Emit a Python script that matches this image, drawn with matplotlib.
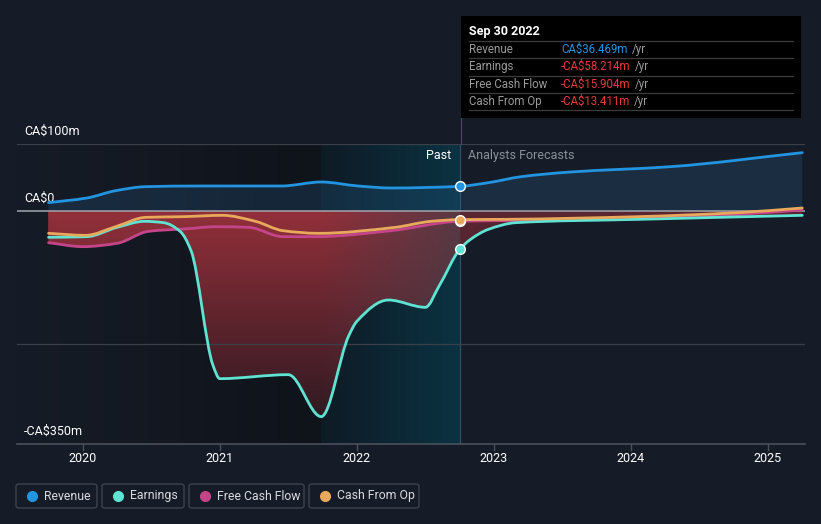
import matplotlib
matplotlib.use('Agg')
import numpy as np
import matplotlib.pyplot as plt
from matplotlib.path import Path
from matplotlib.patches import PathPatch, Rectangle, FancyBboxPatch
from matplotlib.lines import Line2D

plt.rcParams['font.family'] = ['Roboto', 'DejaVu Sans']

# ---- data (CA$ m) ----
rev_years = [2019.75, 2020.03, 2020.24, 2020.46, 2020.85, 2021.45, 2021.74, 2022.01, 2022.25,
             2022.75, 2022.96, 2023.2, 2023.56, 2024.29, 2025.25]
rev_vals = [12, 19, 30, 36, 37, 37, 43, 37, 34, 36.469, 42, 51, 58, 66, 87]

earn_years = [2019.75, 2020.03, 2020.25, 2020.45, 2020.59, 2020.71, 2020.79, 2020.95,
              2021.0, 2021.5, 2021.74, 2021.94, 2022.0, 2022.23, 2022.5,
              2022.6, 2022.75, 2022.83, 2022.96, 2023.16, 2024.06, 2025.25]
earn_vals = [-40, -39, -25, -16, -18, -31, -60, -232, -252, -246, -309, -188,
             -166, -134, -145, -113, -58.214, -43, -28, -18, -13, -7]

fcf_years = [2019.75, 2020.0, 2020.25, 2020.48, 2020.77, 2020.97, 2021.21, 2021.46, 2021.7,
             2022.25, 2022.75, 2023.5, 2024.5, 2025.25]
fcf_vals = [-48, -54, -49, -31, -27, -24, -25, -39, -39, -30, -15.904, -14, -9, 1]

cfo_years = [2019.75, 2020.02, 2020.24, 2020.46, 2020.73, 2021.02, 2021.26, 2021.46, 2021.72,
             2022.28, 2022.54, 2022.75, 2023.09, 2024.05, 2024.78, 2025.25]
cfo_vals = [-34, -37, -24, -10, -9, -7, -16, -30, -34, -25, -16, -13.411, -13, -9, -3, 4]

year_ticks = [2020, 2021, 2022, 2023, 2024, 2025]
now_year = 2022.75
band_start = 2021.74

tooltip_date = 'Sep 30 2022'
tooltip_rows = [('Revenue', 'CA$36.469m', '#2394df'),
                ('Earnings', '-CA$58.214m', '#e8393e'),
                ('Free Cash Flow', '-CA$15.904m', '#e8393e'),
                ('Cash From Op', '-CA$13.411m', '#e8393e')]

C_REV = '#2394df'
C_EARN = '#5fe3d2'
C_FCF = '#c4458a'
C_CFO = '#e8a95c'
BG = '#161c27'

W, H = 821, 524
fig = plt.figure(figsize=(W / 100, H / 100), dpi=100, facecolor=BG)


def fx(x):
    return x / W


def fy(y):
    return 1 - y / H


ax = fig.add_axes([fx(17), fy(444), fx(805) - fx(17), fy(144) - fy(444)])
ax.set_facecolor(BG)
x0, x1 = 2019.52, 2025.27
y0, y1 = -350, 100
ax.set_xlim(x0, x1)
ax.set_ylim(y0, y1)
for s in ax.spines.values():
    s.set_visible(False)
ax.set_xticks([])
ax.set_yticks([])


def mono_path(xs, ys, close_to_zero=False):
    """Smooth monotone cubic Bezier path through the points."""
    xs = np.asarray(xs, float)
    ys = np.asarray(ys, float)
    h = np.diff(xs)
    d = np.diff(ys) / h
    m = np.zeros_like(ys)
    m[0], m[-1] = d[0], d[-1]
    for k in range(1, len(xs) - 1):
        if d[k - 1] * d[k] <= 0:
            m[k] = 0
        else:
            w1 = 2 * h[k] + h[k - 1]
            w2 = h[k] + 2 * h[k - 1]
            m[k] = (w1 + w2) / (w1 / d[k - 1] + w2 / d[k])
    verts = [(xs[0], ys[0])]
    codes = [Path.MOVETO]
    for i in range(len(xs) - 1):
        verts += [(xs[i] + h[i] / 3, ys[i] + m[i] * h[i] / 3),
                  (xs[i + 1] - h[i] / 3, ys[i + 1] - m[i + 1] * h[i] / 3),
                  (xs[i + 1], ys[i + 1])]
        codes += [Path.CURVE4] * 3
    if close_to_zero:
        verts = [(xs[0], 0)] + verts + [(xs[-1], 0), (xs[0], 0)]
        codes = [Path.MOVETO, Path.LINETO] + codes[1:] + [Path.LINETO, Path.CLOSEPOLY]
    return Path(verts, codes)


def hexrgb(c):
    c = c.lstrip('#')
    return np.array([int(c[i:i + 2], 16) / 255 for i in (0, 2, 4)])


# ---- background bands ----
nx = 400
gx = np.linspace(0, 1, nx)
left = hexrgb('#161c27')[None, :] * (1 - gx[:, None]) + hexrgb('#0f131a')[None, :] * gx[:, None]
ax.imshow(left[None, :, :], extent=[x0, band_start, y0, y1], aspect='auto', zorder=0.5)
mid = hexrgb('#0e1b25')[None, :] * (1 - gx[:, None]) + hexrgb('#0b3242')[None, :] * gx[:, None]
ax.imshow(mid[None, :, :], extent=[band_start, now_year, y0, y1], aspect='auto', zorder=0.5)
ax.axvline(now_year, color='#2b5666', lw=0.8, zorder=0.6)

# ---- revenue fill ----
rev_fill = PathPatch(mono_path(rev_years, rev_vals, True), facecolor='#2a6aa0', alpha=0.22,
                     edgecolor='none', zorder=1)
ax.add_patch(rev_fill)

# ---- negative red gradient fill ----
ny = 300
gy = np.linspace(0, 1, ny)[:, None]
xs_img = np.linspace(x0, x1, nx)[None, :]
red_top = hexrgb('#92303a')
red_bot = hexrgb('#2a1820')
img = red_top * (1 - gy[..., None]) + red_bot * gy[..., None]
img = np.broadcast_to(img, (ny, nx, 3)).copy()
t = np.clip((xs_img - band_start) / (now_year - band_start), 0, 1)[..., None]
t = np.where(xs_img[..., None] > now_year, 0, t)
grey = hexrgb('#463c48')
img = img * (1 - 0.75 * t) + grey * 0.75 * t
fmask = (xs_img > now_year)[..., None]
fc = hexrgb('#5a2530') * (1 - gy[..., None]) + hexrgb('#3a2a36') * gy[..., None]
img = np.where(fmask, np.broadcast_to(fc, (ny, nx, 3)), img)
for yrs, vals in [(earn_years, earn_vals), (fcf_years, fcf_vals), (cfo_years, cfo_vals)]:
    p = PathPatch(mono_path(yrs, vals, True), facecolor='none', edgecolor='none')
    ax.add_patch(p)
    im = ax.imshow(img, extent=[x0, x1, -330, 0], aspect='auto', zorder=1.2)
    im.set_clip_path(p)

# ---- gridlines ----
for gv in [100, -200]:
    ax.axhline(gv, color='#3a3f4a', lw=0.9, zorder=1.5)
ax.axhline(0, color='#a3a6ad', lw=1.1, zorder=1.6)
ax.axhline(y0, color='#4a4f5a', lw=1.2, zorder=1.6, clip_on=False)

# ---- lines ----
for yrs, vals, c, z in [(fcf_years, fcf_vals, C_FCF, 3), (earn_years, earn_vals, C_EARN, 3.1),
                        (cfo_years, cfo_vals, C_CFO, 3.2), (rev_years, rev_vals, C_REV, 3.3)]:
    ax.add_patch(PathPatch(mono_path(yrs, vals), facecolor='none', edgecolor=c, lw=2.0,
                           capstyle='round', joinstyle='round', zorder=z))

# markers at now
for v, c in [(fcf_vals[fcf_years.index(now_year)], C_FCF),
             (earn_vals[earn_years.index(now_year)], C_EARN),
             (cfo_vals[cfo_years.index(now_year)], C_CFO),
             (rev_vals[rev_years.index(now_year)], C_REV)]:
    ax.plot([now_year], [v], 'o', ms=7, mfc=c, mec='white', mew=1.0, zorder=5)

# ---- y labels ----
ax.text(x0 + 0.05, 100 + 9, 'CA$100m', color='white', fontsize=9, va='bottom', clip_on=False)
ax.text(x0 + 0.05, 0 + 9, 'CA$0', color='white', fontsize=9, va='bottom')
ax.text(x0 + 0.05, -350 + 9, '-CA$350m', color='white', fontsize=9, va='bottom')
ax.text(now_year - 0.06, 82, 'Past', color='white', fontsize=9, ha='right', va='center')
ax.text(now_year + 0.06, 82, 'Analysts Forecasts', color='#8a8f98', fontsize=9, ha='left',
        va='center')

# ---- x ticks ----
for yr in year_ticks:
    ax.plot([yr, yr], [y0, y0 - 9], color='#4a4f5a', lw=1, clip_on=False, zorder=2)
    ax.text(yr, y0 - 22, str(yr), color='white', fontsize=9, ha='center', va='center',
            clip_on=False)

# vertical line up to tooltip
fig.add_artist(Line2D([fx(461), fx(461)], [fy(144), fy(118)], color='#2b5666', lw=0.8))

# ---- tooltip ----
fig.add_artist(Rectangle((fx(461), fy(118)), fx(801) - fx(461), fy(16) - fy(118),
                         facecolor='black', edgecolor='none'))
fig.text(fx(469), fy(31), tooltip_date, color='white', fontsize=9, fontweight='bold',
         va='center')
for i, (lab, val, c) in enumerate(tooltip_rows):
    yl = 41 + 17.3 * i
    fig.add_artist(Line2D([fx(469), fx(793)], [fy(yl), fy(yl)], color='#3c3c3c', lw=0.9))
    yc = yl + 8.5
    fig.text(fx(469), fy(yc), lab, color='#9a9a9a', fontsize=8.3, va='center')
    tv = fig.text(fx(561), fy(yc), val, color=c, fontsize=8.3, va='center')
    fig.canvas.draw()
    bb = tv.get_window_extent()
    fig.text(bb.x1 / W + fx(4), fy(yc), '/yr', color='#9a9a9a', fontsize=8.3, va='center')
fig.add_artist(Line2D([fx(469), fx(793)], [fy(110), fy(110)], color='#3c3c3c', lw=0.9))

# ---- legend ----
legend_items = [('Revenue', C_REV, 16, 97), ('Earnings', C_EARN, 102, 184),
                ('Free Cash Flow', C_FCF, 189, 304), ('Cash From Op', C_CFO, 309, 419)]
for lab, c, xa, xb in legend_items:
    fig.add_artist(FancyBboxPatch((fx(xa), fy(508)), fx(xb) - fx(xa), fy(484) - fy(508),
                                  boxstyle='round,pad=0,rounding_size=0.004',
                                  facecolor='none', edgecolor='#3c424e', lw=1.0))
    fig.add_artist(Line2D([fx(xa + 16)], [fy(496)], marker='o', ms=7, color=c, mec=c))
    fig.text(fx(xa + 28), fy(496), lab, color='#d8dadf', fontsize=8.8, va='center')

fig.savefig('out.png', dpi=100, facecolor=BG)
